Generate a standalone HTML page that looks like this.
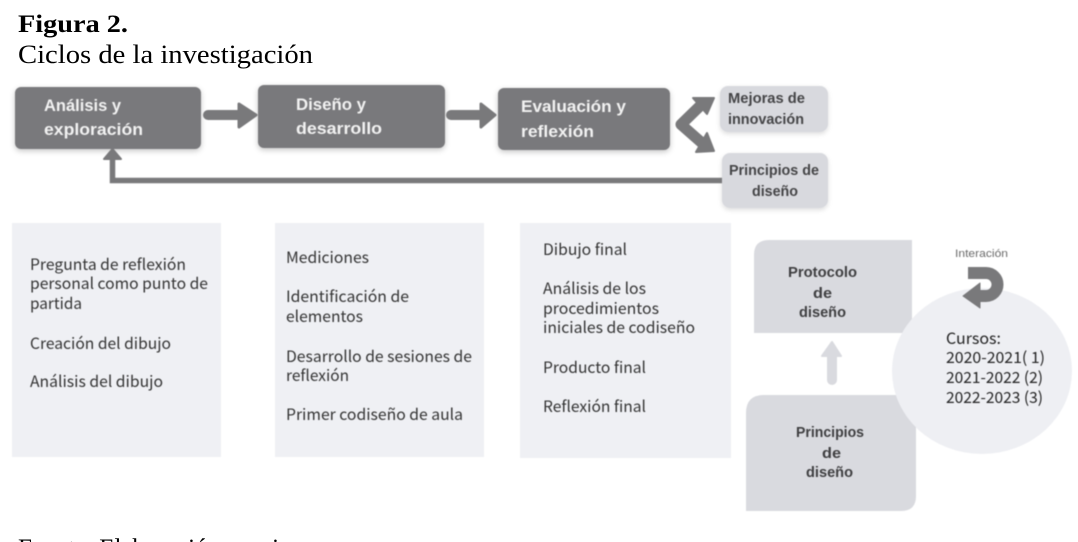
<!DOCTYPE html>
<html lang="es">
<head>
<meta charset="utf-8">
<title>Ciclos de la investigación</title>
<style>
html,body{margin:0;padding:0;background:#fff;width:1078px;height:542px;overflow:hidden}
svg{display:block}
.serif{font-family:"Liberation Serif",serif;fill:#000}
.head{font-family:"Liberation Sans",sans-serif;font-weight:700;font-size:16.8px;fill:#f2f2f2}
.sm{font-family:"Liberation Sans",sans-serif;font-weight:700;font-size:15px;fill:#454547}
.lab{font-family:"Liberation Sans",sans-serif;font-weight:700;font-size:15px;fill:#3f3f41}
.body{font-family:"Noto Sans CJK SC","Liberation Sans",sans-serif;font-size:15.5px;fill:#333}
</style>
</head>
<body>
<svg width="1078" height="542" viewBox="0 0 1078 542" xmlns="http://www.w3.org/2000/svg">
<defs>
<filter id="sh" x="-20%" y="-30%" width="140%" height="170%"><feDropShadow dx="0" dy="2" stdDeviation="3" flood-color="#000" flood-opacity=".22"/></filter>
<filter id="sl" x="-20%" y="-30%" width="140%" height="170%"><feDropShadow dx="0" dy="2" stdDeviation="2.5" flood-color="#000" flood-opacity=".13"/></filter>
<filter id="bl" x="0" y="0" width="100%" height="100%" filterUnits="userSpaceOnUse"><feGaussianBlur stdDeviation=".4"/></filter>
</defs>
<rect width="1078" height="542" fill="#fff"/>

<text class="serif" x="18" y="32" font-size="25" font-weight="700" textLength="110" lengthAdjust="spacingAndGlyphs">Figura 2.</text>
<text class="serif" x="18" y="63" font-size="26" textLength="295" lengthAdjust="spacingAndGlyphs">Ciclos de la investigación</text>
<text class="serif" x="18" y="556" font-size="25">Fuente: Elaboración propia</text>

<g style="filter:blur(.4px)">
<!-- top row boxes -->
<g fill="#79797b" filter="url(#sh)">
<rect x="15" y="87" width="186" height="62" rx="6"/>
<rect x="258" y="85" width="187" height="63" rx="6"/>
<rect x="498" y="88" width="172" height="62" rx="6"/>
</g>
<g filter="url(#sl)" fill="#d8d9de">
<rect x="720" y="86" width="108" height="46" rx="8"/>
<rect x="722" y="153" width="106" height="55" rx="8"/>
</g>

<!-- arrows -->
<g fill="#79797b" stroke="#79797b" stroke-linejoin="round">
<path d="M208 115H240" fill="none" stroke-width="10" stroke-linecap="round"/>
<path d="M239 104L256 115L239 127Z" stroke-width="3"/>
<path d="M451 115H482" fill="none" stroke-width="10" stroke-linecap="round"/>
<path d="M481 104L495 115L481 127Z" stroke-width="3"/>
<path d="M112.500 160V180.500H722" fill="none" stroke-width="5.500" stroke-linejoin="miter"/>
<path d="M104 159L112.500 149L121 159Z" stroke-width="2"/>
<path d="M700 106L681 124.500L702 143" fill="none" stroke-width="11"/>
<path d="M693 98L714 98L707 114Z" stroke-width="2"/>
<path d="M707 133L714 151L696 152Z" stroke-width="2"/>
</g>

<!-- text panels -->
<g fill="#eff0f4">
<rect x="12" y="223" width="209" height="234"/>
<rect x="275" y="223" width="209" height="234"/>
<rect x="520" y="223" width="211" height="235"/>
</g>

<!-- lower right -->
<path d="M769 240H912V333H754V255Q754 240 769 240Z" fill="#d9dadf"/>
<path d="M764 395H916V496Q916 511 901 511H746V413Q746 395 764 395Z" fill="#d9dadf"/>
<path d="M832 380V354" stroke="#d9dadf" stroke-width="10" stroke-linecap="round"/>
<path d="M822 356L832 342L841 356Z" fill="#d9dadf" stroke="#d9dadf" stroke-width="2" stroke-linejoin="round"/>
<ellipse cx="982" cy="371" rx="90" ry="83" fill="#eeeff3"/>
<path d="M968 273H986A11.500 11.500 0 0 1 986 296H977" fill="none" stroke="#79797b" stroke-width="12"/>
<path d="M963 296L980 283V308Z" fill="#79797b" stroke="#79797b" stroke-width="1" stroke-linejoin="round"/>

<!-- box labels -->
<text class="head" x="44" y="111" textLength="77" lengthAdjust="spacingAndGlyphs">Análisis y</text>
<text class="head" x="44" y="135" textLength="99" lengthAdjust="spacingAndGlyphs">exploración</text>
<text class="head" x="296" y="110" textLength="70" lengthAdjust="spacingAndGlyphs">Diseño y</text>
<text class="head" x="296" y="134" textLength="86" lengthAdjust="spacingAndGlyphs">desarrollo</text>
<text class="head" x="521" y="112" textLength="105" lengthAdjust="spacingAndGlyphs">Evaluación y</text>
<text class="head" x="521" y="137" textLength="73" lengthAdjust="spacingAndGlyphs">reflexión</text>

<text class="sm" x="728" y="103" textLength="77" lengthAdjust="spacingAndGlyphs">Mejoras de</text>
<text class="sm" x="728" y="124" textLength="76" lengthAdjust="spacingAndGlyphs">innovación</text>
<text class="sm" x="729" y="175" textLength="90" lengthAdjust="spacingAndGlyphs">Principios de</text>
<text class="sm" x="752" y="196" textLength="46" lengthAdjust="spacingAndGlyphs">diseño</text>

<text class="lab" x="788" y="277" textLength="69" lengthAdjust="spacingAndGlyphs">Protocolo</text>
<text class="lab" x="813" y="298" textLength="19" lengthAdjust="spacingAndGlyphs">de</text>
<text class="lab" x="799" y="317" textLength="47" lengthAdjust="spacingAndGlyphs">diseño</text>
<text class="lab" x="796" y="437" textLength="68" lengthAdjust="spacingAndGlyphs">Principios</text>
<text class="lab" x="822" y="458" textLength="19" lengthAdjust="spacingAndGlyphs">de</text>
<text class="lab" x="806" y="477" textLength="47" lengthAdjust="spacingAndGlyphs">diseño</text>

<text x="955" y="257" font-family="Liberation Sans,sans-serif" font-size="11" fill="#6a6a6a" textLength="53" lengthAdjust="spacingAndGlyphs">Interación</text>

<!-- panel text -->
<text class="body" x="30" y="270" textLength="156" lengthAdjust="spacingAndGlyphs">Pregunta de reflexión</text>
<text class="body" x="30" y="289" textLength="178" lengthAdjust="spacingAndGlyphs">personal como punto de</text>
<text class="body" x="30" y="309" textLength="52" lengthAdjust="spacingAndGlyphs">partida</text>
<text class="body" x="30" y="349" textLength="141" lengthAdjust="spacingAndGlyphs">Creación del dibujo</text>
<text class="body" x="30" y="387" textLength="133" lengthAdjust="spacingAndGlyphs">Análisis del dibujo</text>

<text class="body" x="286" y="263" textLength="83" lengthAdjust="spacingAndGlyphs">Mediciones</text>
<text class="body" x="286" y="302" textLength="123" lengthAdjust="spacingAndGlyphs">Identificación de</text>
<text class="body" x="286" y="322" textLength="77" lengthAdjust="spacingAndGlyphs">elementos</text>
<text class="body" x="286" y="362" textLength="186" lengthAdjust="spacingAndGlyphs">Desarrollo de sesiones de</text>
<text class="body" x="286" y="381" textLength="63" lengthAdjust="spacingAndGlyphs">reflexión</text>
<text class="body" x="286" y="420" textLength="177" lengthAdjust="spacingAndGlyphs">Primer codiseño de aula</text>

<text class="body" x="543" y="255" textLength="84" lengthAdjust="spacingAndGlyphs">Dibujo final</text>
<text class="body" x="543" y="294" textLength="103" lengthAdjust="spacingAndGlyphs">Análisis de los</text>
<text class="body" x="543" y="314" textLength="116" lengthAdjust="spacingAndGlyphs">procedimientos</text>
<text class="body" x="543" y="333" textLength="152" lengthAdjust="spacingAndGlyphs">iniciales de codiseño</text>
<text class="body" x="543" y="373" textLength="103" lengthAdjust="spacingAndGlyphs">Producto final</text>
<text class="body" x="543" y="412" textLength="103" lengthAdjust="spacingAndGlyphs">Reflexión final</text>

<text class="body" x="946" y="344" textLength="55" lengthAdjust="spacingAndGlyphs" style="fill:#222">Cursos:</text>
<text class="body" x="946" y="363" textLength="99" lengthAdjust="spacingAndGlyphs" style="fill:#222">2020-2021( 1)</text>
<text class="body" x="946" y="383" textLength="97" lengthAdjust="spacingAndGlyphs" style="fill:#222">2021-2022 (2)</text>
<text class="body" x="946" y="403" textLength="97" lengthAdjust="spacingAndGlyphs" style="fill:#222">2022-2023 (3)</text>
</g>
</svg>
</body>
</html>
